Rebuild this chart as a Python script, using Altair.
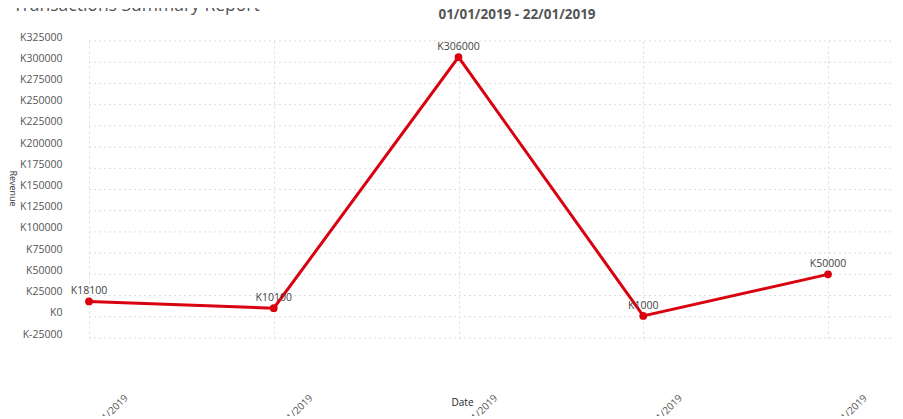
import altair as alt
import pandas as pd

# ---- data ----
dates = ["01/01/2019", "06/01/2019", "11/01/2019", "16/01/2019", "22/01/2019"]
revenue = [18100, 10100, 306000, 1000, 50000]
y_ticks = [-25000, 0, 25000, 50000, 75000, 100000, 125000, 150000, 175000,
           200000, 225000, 250000, 275000, 300000, 325000]
title_text = "Transactions Summary Report"
subtitle_text = "01/01/2019 - 22/01/2019"

df = pd.DataFrame({"Date": dates, "Revenue": revenue})
grid_df = pd.DataFrame({"Revenue": y_ticks})

FONT = "Open Sans"
RED = "#d9000f"
GRID = "#dcdcdc"
W, H = 803, 297

y_scale = alt.Scale(domain=[-25000, 325000], nice=False, zero=False)

x_enc = alt.X(
    "Date:N",
    sort=dates,
    scale=alt.Scale(type="point", range=[0, 739], padding=0),
    axis=alt.Axis(
        title="Date",
        titleFont=FONT, titleFontSize=10, titleFontWeight="normal", titleColor="#222",
        titleX=373, titleY=64, titleAnchor="middle", titleBaseline="middle",
        labelAngle=-45, labelAlign="right", labelBaseline="middle",
        labelOffset=37, labelPadding=58, labelFont=FONT, labelFontSize=10,
        labelColor="#555", ticks=False, tickSize=0, domain=False,
        grid=True, gridColor=GRID, gridDash=[2, 3], gridWidth=1,
        labelOverlap=False,
    ),
)
y_axis = alt.Axis(
    title="Revenue", titleAngle=90, titleX=-77, titleY=147,
    titleFont=FONT, titleFontSize=9, titleFontWeight="normal", titleColor="#333",
    titleAlign="center", titleBaseline="middle",
    values=y_ticks, labelExpr="'K' + datum.value",
    labelFont=FONT, labelFontSize=10.5, labelColor="#555", labelPadding=27,
    labelOffset=-4, ticks=False, tickSize=0, domain=False,
    grid=False, labelOverlap=False,
)
y_enc = alt.Y("Revenue:Q", scale=y_scale, axis=y_axis)

# horizontal dotted grid lines spanning the whole plot width
hgrid = alt.Chart(grid_df).mark_rule(
    color=GRID, strokeDash=[2, 3], strokeWidth=1
).encode(
    y=y_enc,
    x=alt.value(0), x2=alt.value(W),
)

base = alt.Chart(df).encode(x=x_enc, y=y_enc)

line = base.mark_line(color=RED, strokeWidth=3)
points = base.mark_circle(color=RED, size=60, opacity=1)
labels = base.transform_calculate(lbl="'K' + datum.Revenue").mark_text(
    font=FONT, fontSize=10.5, color="#444", dy=-10, baseline="middle"
).encode(text="lbl:N")

title = alt.Chart(pd.DataFrame({"t": [title_text]})).mark_text(
    font=FONT, fontSize=17.5, color="#555", align="left", baseline="alphabetic"
).encode(x=alt.value(-76), y=alt.value(-30), text="t:N")

subtitle = alt.Chart(pd.DataFrame({"t": [subtitle_text]})).mark_text(
    font=FONT, fontSize=13.5, fontWeight="bold", color="#555", align="center", baseline="middle"
).encode(x=alt.value(428), y=alt.value(-26), text="t:N")

chart = alt.layer(hgrid, line, points, labels, title, subtitle).properties(
    width=W, height=H,
    autosize=alt.AutoSizeParams(type="none"),
    padding={"left": 81, "top": 33, "right": 3, "bottom": 78},
).configure_view(stroke=None)

chart.save("out.html", embed_options={"renderer": "svg", "actions": False})
